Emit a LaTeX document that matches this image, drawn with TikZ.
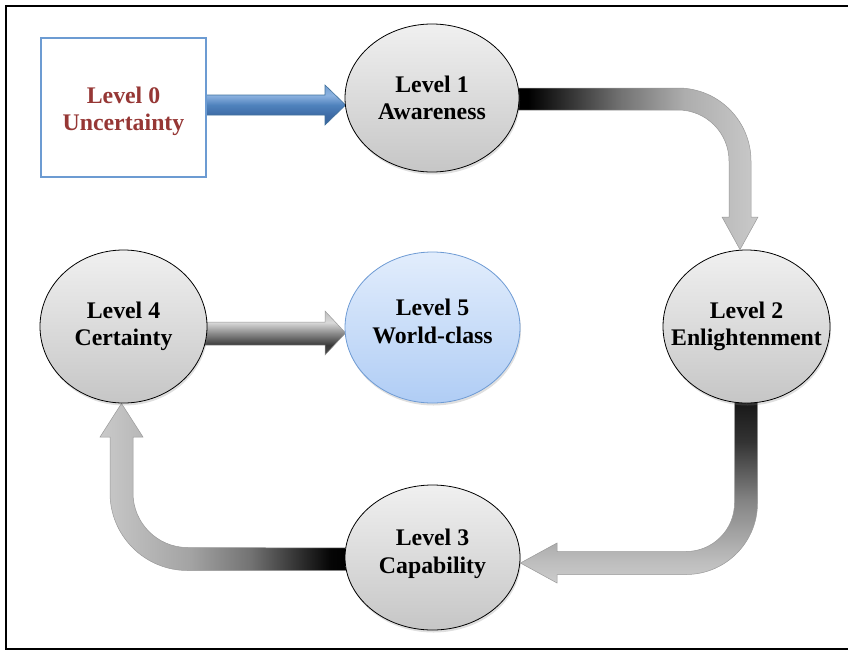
\documentclass[tikz,border=0pt]{standalone}
\usepackage{fontspec}
\setmainfont{Liberation Serif}
\usetikzlibrary{calc,shadows,shapes.geometric,backgrounds}

\definecolor{lvlred}{RGB}{150,55,53}
\definecolor{boxblue}{RGB}{108,155,210}
\definecolor{ellTop}{RGB}{240,240,240}
\definecolor{ellBot}{RGB}{198,198,198}
\definecolor{wcTop}{RGB}{226,237,252}
\definecolor{wcBot}{RGB}{176,205,245}
\definecolor{wcEdge}{RGB}{110,155,212}
\definecolor{blueEdge}{RGB}{65,113,156}

% gradients for the block arrows
\pgfdeclarehorizontalshading{shAwareness}{100bp}{gray(0bp)=(0); gray(28bp)=(0); gray(47bp)=(0.45); gray(60bp)=(0.68); gray(75bp)=(0.79); gray(100bp)=(0.79)}
\pgfdeclareverticalshading{shEnlight}{100bp}{gray(0bp)=(0.8); gray(25bp)=(0.8); gray(31bp)=(0.74); gray(47bp)=(0.52); gray(63bp)=(0.2); gray(73bp)=(0.1); gray(75bp)=(0.08); gray(100bp)=(0.08)}
\pgfdeclarehorizontalshading{shCapab}{100bp}{gray(0bp)=(0.79); gray(25bp)=(0.79); gray(43bp)=(0.64); gray(55bp)=(0.45); gray(71bp)=(0.02); gray(75bp)=(0); gray(100bp)=(0)}
\pgfdeclareverticalshading{shCertain}{100bp}{gray(0bp)=(0.3); gray(25bp)=(0.3); gray(36bp)=(0.22); gray(50bp)=(0.55); gray(62bp)=(0.85); gray(75bp)=(0.75); gray(100bp)=(0.75)}
\pgfdeclareverticalshading{shBlue}{100bp}{rgb(0bp)=(.23,.40,.62); rgb(25bp)=(.23,.40,.62); rgb(37bp)=(.24,.42,.65); rgb(50bp)=(.31,.51,.74); rgb(62bp)=(.55,.70,.88); rgb(75bp)=(.45,.62,.82); rgb(100bp)=(.45,.62,.82)}

% struts that nudge a two-line label down or up inside its shape
\newcommand{\lowerlabel}{\rule{0pt}{24pt}}
\newcommand{\raiselabel}{\rule[-13pt]{0pt}{13pt}}

\tikzset{
  lvltext/.style={align=center, font=\fontsize{23.8}{27.5}\selectfont\bfseries},
  level/.style={lvltext, ellipse, draw=black, line width=0.8pt, top color=ellTop, bottom color=ellBot,
    inner xsep=-25pt, inner ysep=0pt, drop shadow={shadow xshift=1pt, shadow yshift=-2.5pt, opacity=0.25}},
  goal/.style={level, draw=wcEdge, top color=wcTop, bottom color=wcBot},
  startbox/.style={lvltext, rectangle, draw=boxblue, line width=2.2pt, fill=white, text=lvlred},
  grayarrow/.style={draw=black!40, line width=0.5pt},
}

\begin{document}
\begin{tikzpicture}[x=1pt,y=-1pt]
\useasboundingbox (0,0) rectangle (848,651);

% outer frame
\draw[line width=2.5pt] (848,6) -- (6,6) -- (6,649) -- (848,649);

% levels
\node[startbox, minimum width=165pt, minimum height=139pt] (l0) at (123.5,107.5) {\lowerlabel Level 0\\Uncertainty};
\node[level, minimum width=174pt, minimum height=148pt] (l1) at (432,98) {Level 1\\Awareness};
\node[level, minimum width=167pt, minimum height=153pt] (l2) at (746.5,326.5) {Level 2\\Enlightenment};
\node[level, minimum width=175pt, minimum height=145pt] (l3) at (432.5,557.5) {Level 3\\Capability\raiselabel};
\node[level, minimum width=167pt, minimum height=153pt] (l4) at (123.5,326.5) {Level 4\\Certainty};
\node[goal, minimum width=175pt, minimum height=151pt] (l5) at (432.5,327.5) {Level 5\\World-class\raiselabel};

\begin{scope}[on background layer]
% Level 0 -> Level 1
\path[shading=shBlue, draw=blueEdge, line width=0.6pt]
  ($(l0.east)+(-2,-12.5)$) -- (325,95) -- (325,85) -- ($(l1.west)+(1,7)$)
  -- (325,125) -- (325,115) -- ($(l0.east)+(-2,7.5)$) -- cycle;

% Level 1 -> Level 2
\path[shading=shAwareness, grayarrow]
  ($(l1.east)+(-6,-10)$) -- (678,88) arc[start angle=-90,end angle=0,radius=73]
  -- (751,217) -- (758,217) -- ($(l2.north)+(-6.5,0)$) -- (722,217) -- (729,217)
  -- (729,161) arc[start angle=0,end angle=-90,radius=51] -- ($(l1.east)+(-6,12)$) -- cycle;

% Level 2 -> Level 3
\path[shading=shEnlight, grayarrow]
  ($(l2.south)+(-12,-6)$) -- (757.5,397) -- (757.5,503) arc[start angle=0,end angle=90,radius=71.5]
  -- (557,574.5) -- (557,583) -- ($(l3.east)+(0,5.5)$) -- (557,543) -- (557,551.5)
  -- (686,551.5) arc[start angle=90,end angle=0,radius=48.5] -- (734.5,397) -- cycle;

% Level 3 -> Level 4
\path[shading=shCapab, grayarrow]
  ($(l3.west)+(6,13)$) -- (187.5,570.5) arc[start angle=90,end angle=180,radius=77.5]
  -- (110,437) -- (100,437) -- ($(l4.south)+(-2,0)$) -- (143,437) -- (133,437)
  -- (133,493) arc[start angle=180,end angle=90,radius=54.5] -- ($(l3.west)+(6,-9.5)$) -- cycle;

% Level 4 -> Level 5
\path[shading=shCertain, grayarrow]
  ($(l4.east)+(-6,-4.5)$) -- (325,322) -- (325,311) -- ($(l5.west)+(1,5.5)$)
  -- (325,355) -- (325,345) -- ($(l4.east)+(-6,18.5)$) -- cycle;
\end{scope}
\end{tikzpicture}
\end{document}
